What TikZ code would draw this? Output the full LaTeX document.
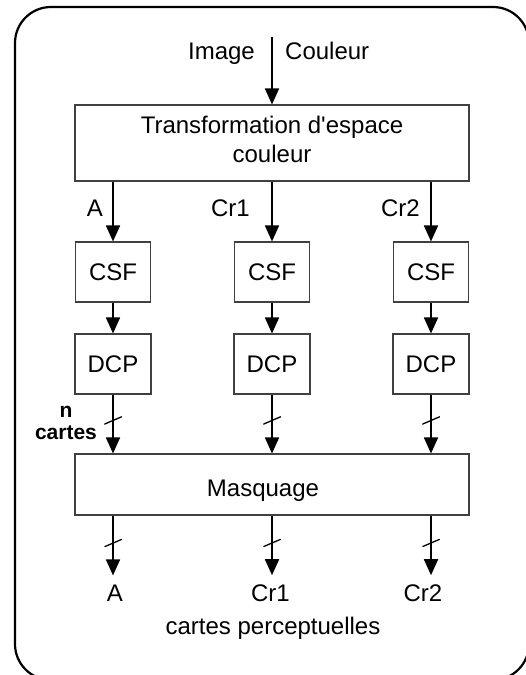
\documentclass[tikz,border=0pt]{standalone}
\usepackage{fontspec}
\setmainfont{Liberation Sans}
\usetikzlibrary{arrows.meta}
\tikzset{
  blk/.style={draw=black!75,line width=1.1pt,inner sep=0pt},
  arr/.style={-{Triangle[length=16pt,width=14pt]},line width=1.8pt},
  lbl/.style={inner sep=0pt},
  outlbl/.style={inner sep=0pt,outer ysep=9.8pt},
  slash/.style={inner sep=0pt,minimum width=17.5pt,minimum height=7.5pt,
    path picture={\draw[-,line width=1.3pt] (path picture bounding box.south west)--(path picture bounding box.north east);}}
}
\begin{document}
\begin{tikzpicture}[x=1pt,y=-1pt,font=\fontsize{24}{29}\selectfont]
\useasboundingbox (0,0) rectangle (526,675);
\draw[line width=2.2pt,rounded corners=36pt](15,7) rectangle (529,680);
% blocs
\node[blk,minimum width=394pt,minimum height=76pt,align=center,text depth=7pt](t) at (272,143){Transformation d\textquotesingle espace\\couleur};
\node[blk,minimum width=75pt,minimum height=60pt](c1) at (113,272){CSF};
\node[blk,minimum width=75pt,minimum height=60pt](c2) at (272,272){CSF};
\node[blk,minimum width=75pt,minimum height=60pt](c3) at (431,272){CSF};
\node[blk,minimum width=76pt,minimum height=60pt](d1) at (113,364){DCP};
\node[blk,minimum width=76pt,minimum height=60pt](d2) at (272,364){DCP};
\node[blk,minimum width=76pt,minimum height=60pt](d3) at (431,364){DCP};
\node[blk,minimum width=394pt,minimum height=61pt](m) at (272,484.5){};
\node[lbl](mtxt) at (263,491){Masquage};
% entree
\coordinate (src) at (272,37);
\node[lbl,anchor=base east](img) at (255,59){Image};
\node[lbl,anchor=base west](coul) at (285,59){Couleur};
\draw[arr](src)--(t);
% canaux
\node[lbl,anchor=base east](la) at (103,216){A};
\node[lbl,anchor=base east](lb) at (250,216){Cr1};
\node[lbl,anchor=base east](lc) at (420,216){Cr2};
\draw[arr](t.south -| c1)--(c1);
\draw[arr](t.south -| c2)--(c2);
\draw[arr](t.south -| c3)--(c3);
\draw[arr](c1)--(d1);
\draw[arr](c2)--(d2);
\draw[arr](c3)--(d3);
\draw[arr](d1)--(d1 |- m.north)node[pos=.44,slash]{};
\draw[arr](d2)--(d2 |- m.north)node[pos=.44,slash]{};
\draw[arr](d3)--(d3 |- m.north)node[pos=.44,slash]{};
\node[lbl,align=center,font=\bfseries\fontsize{21}{22}\selectfont](nc) at (66,423){n\\cartes};
% sorties
\node[outlbl](oa) at (115,593.5){A};
\node[outlbl](ob) at (270.5,593.5){Cr1};
\node[outlbl](oc) at (423,593.5){Cr2};
\draw[arr](m.south -| d1)--(d1 |- oa.north)node[pos=.46,slash]{};
\draw[arr](m.south -| d2)--(d2 |- ob.north)node[pos=.46,slash]{};
\draw[arr](m.south -| d3)--(d3 |- oc.north)node[pos=.46,slash]{};
\node[lbl,anchor=base](cp) at (273,634){cartes perceptuelles};
\end{tikzpicture}
\end{document}
